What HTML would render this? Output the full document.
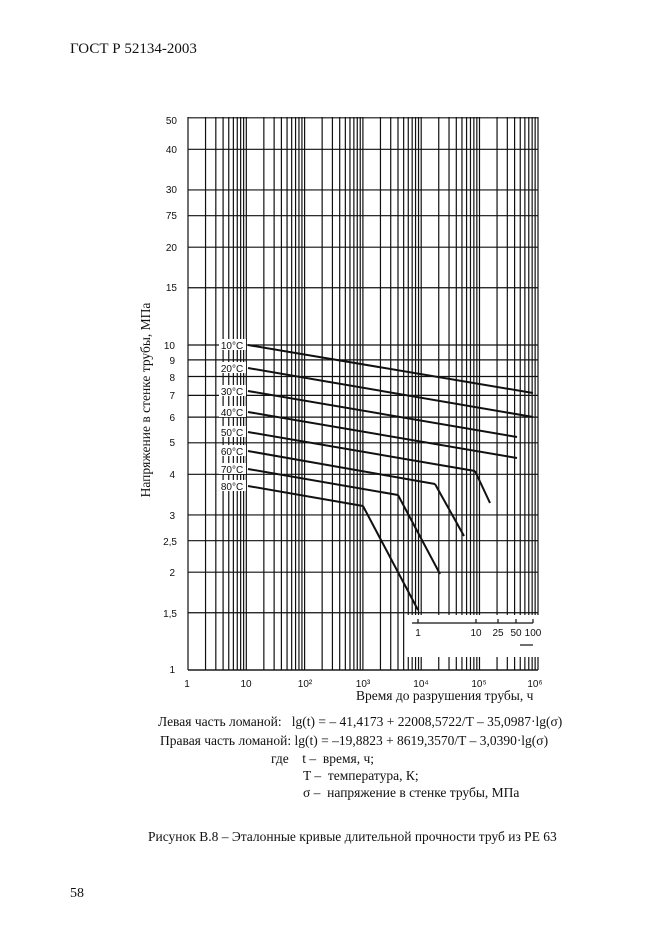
<!DOCTYPE html>
<html><head><meta charset="utf-8"><style>
body{margin:0;background:#fff;}
svg{display:block}
.s{font-family:"Liberation Serif",serif;fill:#111}
.t{font-family:"Liberation Sans",sans-serif;fill:#111;font-size:10px}
</style></head><body>
<svg id="g" width="666" height="936" xmlns="http://www.w3.org/2000/svg">
<rect width="666" height="936" fill="#fff"/>
<g id="grid" stroke="#111" stroke-width="1.2"></g>
<g class="s" font-size="15"><text x="70" y="53">ГОСТ Р 52134-2003</text></g>
<text class="s" font-size="13.5" transform="translate(150,400) rotate(-90)" text-anchor="middle">Напряжение в стенке трубы, МПа</text>
<g class="t" text-anchor="end">
<text x="177" y="124">50</text><text x="177" y="153">40</text><text x="177" y="193">30</text>
<text x="177" y="219">75</text><text x="177" y="251">20</text><text x="177" y="291">15</text>
<text x="175" y="349">10</text><text x="175" y="364">9</text><text x="175" y="381">8</text>
<text x="175" y="399">7</text><text x="175" y="421">6</text><text x="175" y="446">5</text>
<text x="175" y="478">4</text><text x="175" y="519">3</text><text x="177" y="545">2,5</text>
<text x="175" y="576">2</text><text x="177" y="617">1,5</text><text x="175" y="673">1</text>
</g>
<g class="t" text-anchor="middle">
<text x="187" y="687">1</text><text x="246" y="687">10</text><text x="305" y="687">10²</text>
<text x="363" y="687">10³</text><text x="421" y="687">10⁴</text><text x="479" y="687">10⁵</text><text x="535" y="687">10⁶</text>
</g>
<g class="s" font-size="13.5">
<text x="356" y="700">Время до разрушения трубы, ч</text>
<text x="158" y="726">Левая часть ломаной:&#160;&#160;&#160;lg(t) = – 41,4173 + 22008,5722/T – 35,0987·lg(σ)</text>
<text x="160" y="745">Правая часть ломаной: lg(t) = –19,8823 + 8619,3570/T – 3,0390·lg(σ)</text>
<text x="271" y="763">где&#160;&#160;&#160;&#160;t&#160;–&#160;&#160;время, ч;</text>
<text x="303" y="780">T –&#160;&#160;температура, К;</text>
<text x="303" y="797">σ&#160;–&#160;&#160;напряжение в стенке трубы, МПа</text>
<text x="148" y="841">Рисунок В.8 – Эталонные кривые длительной прочности труб из PE 63</text>
<text x="70" y="897" font-size="14">58</text>
</g>
</svg>
<script>
const g=document.getElementById('grid');const NS='http://www.w3.org/2000/svg';
function L(x1,y1,x2,y2,w){const l=document.createElementNS(NS,'line');l.setAttribute('x1',x1);l.setAttribute('y1',y1);l.setAttribute('x2',x2);l.setAttribute('y2',y2);if(w)l.setAttribute('stroke-width',w);g.appendChild(l);}
const X=t=>188+58.3*Math.log10(t), Y=v=>670-325*Math.log10(v);
[1,1.5,2,2.5,3,4,5,6,7,8,9,10,15,20,25,30,40,50].forEach(v=>L(188,Y(v),538,Y(v)));
for(let d=0;d<6;d++)for(let k=1;k<=9;k++){const x=X(k*Math.pow(10,d));
 if(x>=408&&x<=538){L(x,117,x,615);L(x,657,x,670);} else L(x,117,x,670);}
L(538,117,538,615);L(538,657,538,670);L(188,670,538,670);
const curves=[[[248,345],[533,393]],[[248,368],[533,417]],[[248,391],[517,437]],[[248,412],[517,458]],
[[248,432],[475,471],[490,503]],[[248,451],[435,484],[464,536]],[[248,469],[398,495],[440,574]],[[248,486],[363,506],[418,610]]];
curves.forEach(c=>{for(let i=0;i<c.length-1;i++)L(c[i][0],c[i][1],c[i+1][0],c[i+1][1],2);});
const labs=['10°C','20°C','30°C','40°C','50°C','60°C','70°C','80°C'];
const ly=[345,368,391,412,432,451,469,486];
const svg=document.getElementById('g');
labs.forEach((s,i)=>{const r=document.createElementNS(NS,'rect');r.setAttribute('x',219);r.setAttribute('y',ly[i]-6);r.setAttribute('width',27);r.setAttribute('height',11);r.setAttribute('fill','#fff');svg.appendChild(r);
const t=document.createElementNS(NS,'text');t.setAttribute('x',232);t.setAttribute('y',ly[i]+4);t.setAttribute('class','t');t.setAttribute('text-anchor','middle');t.textContent=s;svg.appendChild(t);});
L(412,623,533,623);[[418,'1'],[476,'10'],[498,'25'],[516,'50'],[533,'100']].forEach(p=>{L(p[0],619,p[0],623);
const t=document.createElementNS(NS,'text');t.setAttribute('x',p[0]);t.setAttribute('y',636);t.setAttribute('class','t');t.setAttribute('text-anchor','middle');t.textContent=p[1];svg.appendChild(t);});
L(520,645,533,645);
</script>
</body></html>
